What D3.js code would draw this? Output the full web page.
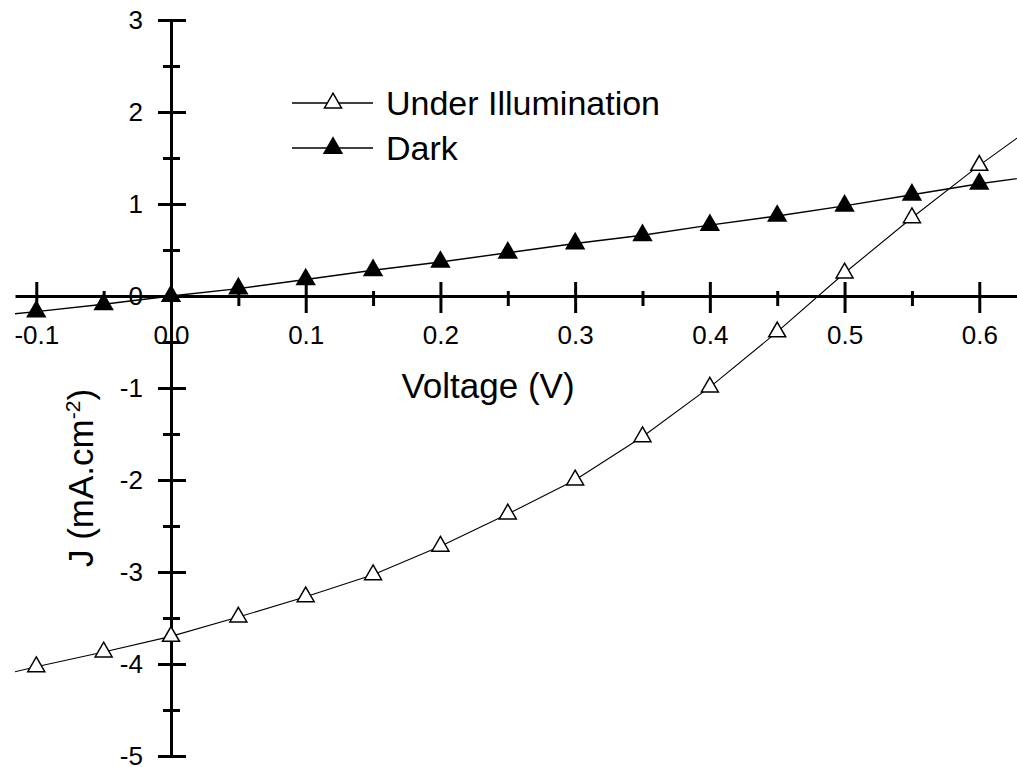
<!DOCTYPE html>
<html>
<head>
<meta charset="utf-8">
<script src="https://cdn.jsdelivr.net/npm/d3@7"></script>
<style>
  body { margin: 0; background: #fff; }
  text { font-family: "Liberation Sans", Arial, sans-serif; fill: #000; }
</style>
</head>
<body>
<svg id="chart" width="1017" height="767"></svg>
<script>
// voltages (V) - first and last points are outside the visible range (clipped)
let voltage = [-0.15, -0.1, -0.05, 0, 0.05, 0.1, 0.15, 0.2, 0.25, 0.3, 0.35, 0.4, 0.45, 0.5, 0.55, 0.6, 0.65];
let illuminated = [-4.20, -4.03, -3.87, -3.70, -3.49, -3.27, -3.03, -2.72, -2.37, -2.00, -1.53, -0.99, -0.39, 0.25, 0.85, 1.42, 1.95];
let dark = [-0.24, -0.17, -0.09, 0.00, 0.08, 0.18, 0.28, 0.37, 0.47, 0.57, 0.66, 0.77, 0.87, 0.98, 1.10, 1.22, 1.32];

let xMajor = [-0.1, 0, 0.1, 0.2, 0.3, 0.4, 0.5, 0.6];
let xMinor = [-0.05, 0.05, 0.15, 0.25, 0.35, 0.45, 0.55];
let yMajor = [-5, -4, -3, -2, -1, 0, 1, 2, 3];
let yMinor = [-4.5, -3.5, -2.5, -1.5, -0.5, 0.5, 1.5, 2.5];

let legendNames = ['Under Illumination', 'Dark'];

let svg = d3.select('#chart');

let xScale = d3.scaleLinear()
  .domain([-0.1158, 0.628])
  .range([15, 1017]);

let yScale = d3.scaleLinear()
  .domain([-5, 3])
  .range([756, 20]);

// axes cross at (0,0)
let x0 = xScale(0), y0 = yScale(0);

// x axis, major ticks with labels (plain hyphen as minus, like the original)
let xAxis = d3.axisBottom(xScale).tickValues(xMajor).tickSize(17).tickSizeOuter(0).tickPadding(13)
  .tickFormat(d => d.toFixed(1));
let gx = svg.append('g').attr('transform', `translate(0, ${y0})`).call(xAxis);
gx.selectAll('.tick line').attr('y1', -14);
// minor ticks
let gxm = svg.append('g').attr('transform', `translate(0, ${y0})`)
  .call(d3.axisBottom(xScale).tickValues(xMinor).tickSize(10).tickSizeOuter(0).tickFormat(''));
gxm.selectAll('.tick line').attr('y1', -5);
gxm.select('.domain').remove();

// y axis
let yAxis = d3.axisLeft(yScale).tickValues(yMajor).tickSize(13).tickSizeOuter(0).tickPadding(15)
  .tickFormat(d => String(d));
let gy = svg.append('g').attr('transform', `translate(${x0}, 0)`).call(yAxis);
gy.selectAll('.tick line').attr('x1', 15);
let gym = svg.append('g').attr('transform', `translate(${x0}, 0)`)
  .call(d3.axisLeft(yScale).tickValues(yMinor).tickSize(8).tickSizeOuter(0).tickFormat(''));
gym.selectAll('.tick line').attr('x1', 9);
gym.select('.domain').remove();

svg.selectAll('.domain').attr('stroke', '#000').attr('stroke-width', 3);
svg.selectAll('.tick line').attr('stroke', '#000').attr('stroke-width', 3);
svg.selectAll('.tick text').style('font-size', '26px').style('font-family', '"Liberation Sans", Arial, sans-serif').attr('fill', '#000');

// axis titles
svg.append('text')
  .attr('x', 488).attr('y', 398)
  .attr('text-anchor', 'middle')
  .style('font-size', '35px')
  .text('Voltage (V)');

let yTitle = svg.append('text')
  .attr('transform', 'translate(93, 478) rotate(-90)')
  .attr('text-anchor', 'middle')
  .style('font-size', '35px');
yTitle.append('tspan').text('J (mA.cm');
yTitle.append('tspan').attr('dy', -13).style('font-size', '21px').text('-2');
yTitle.append('tspan').attr('dy', 13).text(')');

// data lines
svg.append('clipPath').attr('id', 'plotclip')
  .append('rect').attr('x', 15).attr('y', 0).attr('width', 1002).attr('height', 767);

let lineFn = d3.line()
  .x(d => xScale(d.x))
  .y(d => yScale(d.y));

let illumData = voltage.map((v, i) => ({x: v, y: illuminated[i]}));
let darkData = voltage.map((v, i) => ({x: v, y: dark[i]}));

let lines = svg.append('g').attr('clip-path', 'url(#plotclip)');
lines.append('path')
  .attr('d', lineFn(illumData))
  .attr('fill', 'none').attr('stroke', '#000').attr('stroke-width', 1.1);
lines.append('path')
  .attr('d', lineFn(darkData))
  .attr('fill', 'none').attr('stroke', '#000').attr('stroke-width', 1.4);

let [xmin, xmax] = xScale.domain();
let inside = d => d.x >= xmin && d.x <= xmax;

let openTri = d3.symbol().type(d3.symbolTriangle).size(125);
let fillTri = d3.symbol().type(d3.symbolTriangle).size(180);

svg.append('g').selectAll('path')
  .data(darkData.filter(inside))
  .join('path')
  .attr('transform', d => `translate(${xScale(d.x)}, ${yScale(d.y)})`)
  .attr('d', fillTri)
  .attr('fill', '#000');

svg.append('g').selectAll('path')
  .data(illumData.filter(inside))
  .join('path')
  .attr('transform', d => `translate(${xScale(d.x)}, ${yScale(d.y)})`)
  .attr('d', openTri)
  .attr('fill', '#fff')
  .attr('stroke', '#000')
  .attr('stroke-width', 1.5);

// legend
let legend = svg.append('g').selectAll('g')
  .data(legendNames)
  .join('g')
  .attr('transform', (d, i) => `translate(0, ${103 + i * 45})`);

legend.append('line')
  .attr('x1', 292).attr('x2', 373)
  .attr('stroke', '#000').attr('stroke-width', 1.4);
legend.append('path')
  .attr('transform', 'translate(333, 0)')
  .attr('d', (d, i) => i === 0 ? openTri() : fillTri())
  .attr('fill', (d, i) => i === 0 ? '#fff' : '#000')
  .attr('stroke', (d, i) => i === 0 ? '#000' : 'none')
  .attr('stroke-width', 1.5);
legend.append('text')
  .attr('x', 386).attr('y', 12)
  .style('font-size', '34px')
  .text(d => d);
</script>
</body>
</html>
